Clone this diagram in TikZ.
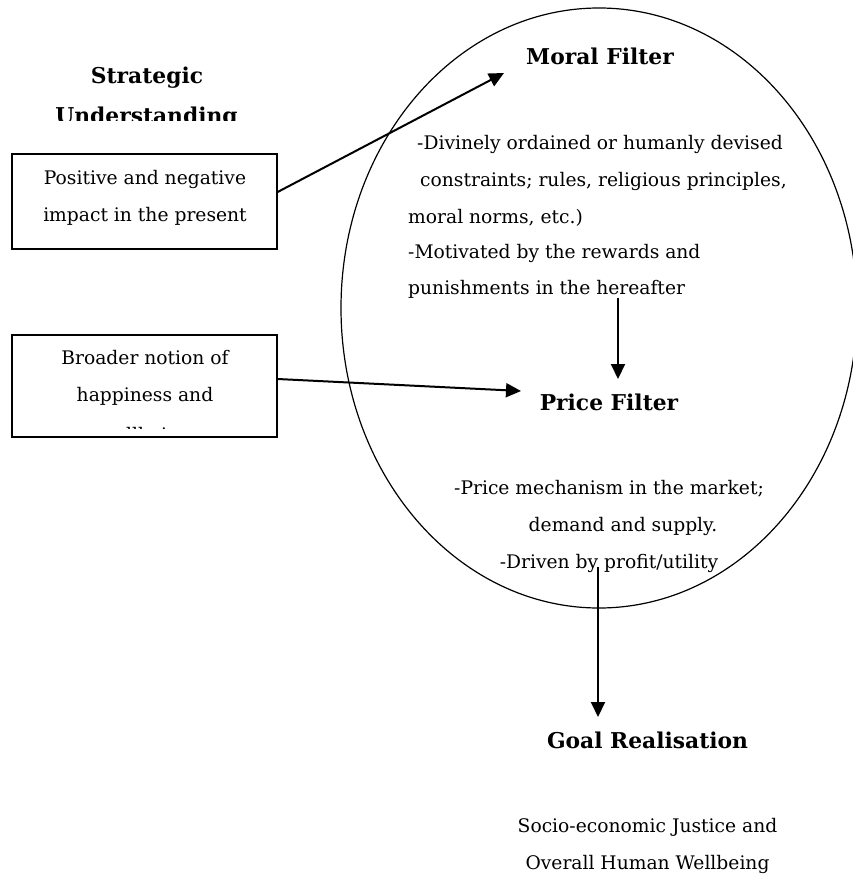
\documentclass[tikz,border=0pt]{standalone}
\usepackage{fontspec}
\setmainfont{DejaVu Serif}
\usetikzlibrary{arrows.meta,calc,shapes.geometric}
\begin{document}
\begin{tikzpicture}[x=1pt,y=-1pt,
  txt/.style={inner sep=0pt, font=\fontsize{18.7}{22}\selectfont},
  ttl/.style={inner sep=0pt, font=\fontsize{21.8}{26}\selectfont\bfseries},
  frame/.style={draw, line width=1.3pt, minimum width=265pt, minimum height=95pt, inner sep=0pt},
  conn/.style={line width=2pt, -{Triangle[length=15pt,width=14pt]}},
]
\useasboundingbox (0,0) rectangle (853,875);
% big oval
\node[draw, ellipse, line width=1.2pt, minimum width=516pt, minimum height=600pt, inner sep=0pt] (oval) at (599,308) {};

% Strategic Understanding (clipped)
\begin{scope}
\clip (0,0) rectangle (300,120);
\node[ttl, anchor=base] (su1) at (147,84) {Strategic};
\node[ttl, anchor=base] (su2) at (146.5,123) {Understanding};
\end{scope}

% box 1
\node[frame, minimum height=95pt] (box1) at (144.5,201.5) {};
\node[txt, anchor=base] (b1a) at (145,184) {Positive and negative};
\node[txt, anchor=base] (b1b) at (145,221) {impact in the present};

% box 2
\begin{scope}
\clip (12,335) rectangle (277,428);
\node[txt, anchor=base] (b2a) at (145,364) {Broader notion of};
\node[txt, anchor=base] (b2b) at (145,401) {happiness and};
\node[txt, anchor=base] (b2c) at (145,441) {wellbeing};
\end{scope}
\node[frame, minimum height=102pt] (box2) at (144.5,386) {};

% moral filter
\node[ttl, anchor=base] (mf) at (600,65) {Moral Filter};
\node[txt, anchor=base west] (m1) at (417,149) {-Divinely ordained or humanly devised};
\node[txt, anchor=base west] (m2) at (420,186) {constraints; rules, religious principles,};
\node[txt, anchor=base west] (m3) at (408,223) {moral norms, etc.)};
\node[txt, anchor=base west] (m4) at (408,258) {-Motivated by the rewards and};
\node[txt, anchor=base west] (m5) at (408,294) {punishments in the hereafter};

% price filter
\node[ttl, anchor=base] (pf) at (609,410) {Price Filter};
\node[txt, anchor=base] (p1) at (609,494) {-Price mechanism in the market;};
\node[txt, anchor=base] (p2) at (623,531) {demand and supply.};
\node[txt, anchor=base] (p3) at (609,568) {-Driven by profit/utility};

% goal
\node[ttl, anchor=base] (gr) at (647.5,748) {Goal Realisation};
\node[txt, anchor=base] (g1) at (647.5,832) {Socio-economic Justice and};
\node[txt, anchor=base] (g2) at (647.5,869) {Overall Human Wellbeing};

% connectors
\coordinate (t1) at (504,73);
\coordinate (t2) at (521,391);
\coordinate (s3) at (618,298);
\coordinate (t3) at (618,379);
\coordinate (s4) at (598,567);
\coordinate (t4) at (598,717);
\draw[conn] ($(box1.east)+(0,-9.5)$) -- (t1);
\draw[conn] ($(box2.east)+(0,-7)$) -- (t2);
\draw[conn] (s3) -- (t3);
\draw[conn] (s4) -- (t4);
\end{tikzpicture}
\end{document}
